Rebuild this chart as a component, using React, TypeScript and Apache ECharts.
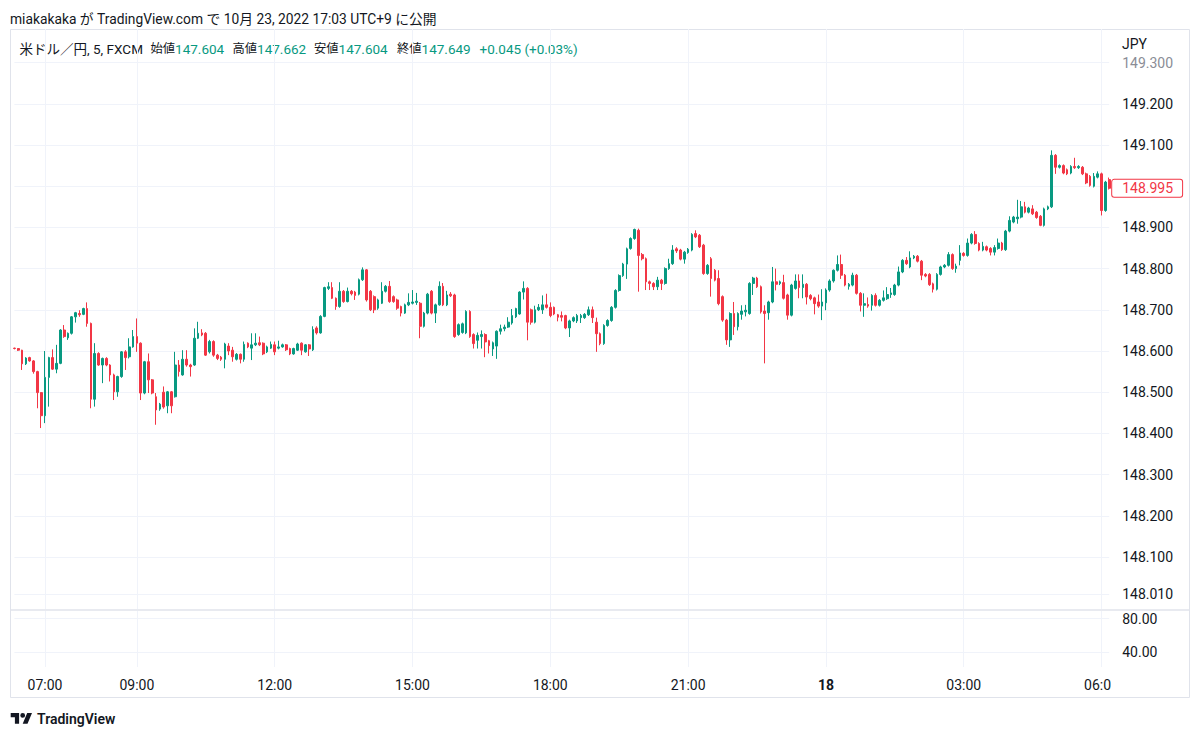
import React, { useEffect, useRef } from "react";
import * as echarts from "echarts";

// [open, close, low, high] — USD/JPY 5-minute candles, 06:20 → 06:10 (next day)
const CANDLES: [number, number, number, number][] = [
  [148.607, 148.606, 148.604, 148.608],
  [148.606, 148.602, 148.600, 148.607],
  [148.602, 148.569, 148.554, 148.603],
  [148.569, 148.583, 148.566, 148.585],
  [148.584, 148.576, 148.574, 148.586],
  [148.576, 148.550, 148.545, 148.578],
  [148.550, 148.499, 148.461, 148.552],
  [148.499, 148.443, 148.413, 148.500],
  [148.443, 148.536, 148.425, 148.600],
  [148.536, 148.584, 148.465, 148.586],
  [148.584, 148.556, 148.554, 148.604],
  [148.556, 148.570, 148.546, 148.615],
  [148.570, 148.651, 148.568, 148.653],
  [148.651, 148.635, 148.632, 148.663],
  [148.632, 148.643, 148.627, 148.645],
  [148.643, 148.683, 148.640, 148.685],
  [148.683, 148.693, 148.669, 148.695],
  [148.691, 148.688, 148.683, 148.699],
  [148.689, 148.703, 148.687, 148.705],
  [148.703, 148.667, 148.659, 148.718],
  [148.667, 148.483, 148.461, 148.669],
  [148.483, 148.594, 148.465, 148.619],
  [148.594, 148.566, 148.564, 148.597],
  [148.566, 148.582, 148.522, 148.584],
  [148.582, 148.566, 148.563, 148.585],
  [148.566, 148.542, 148.526, 148.568],
  [148.542, 148.501, 148.481, 148.545],
  [148.501, 148.538, 148.489, 148.540],
  [148.538, 148.598, 148.535, 148.600],
  [148.598, 148.584, 148.554, 148.602],
  [148.586, 148.610, 148.582, 148.631],
  [148.610, 148.635, 148.608, 148.651],
  [148.635, 148.619, 148.598, 148.679],
  [148.619, 148.498, 148.481, 148.621],
  [148.498, 148.574, 148.495, 148.576],
  [148.574, 148.530, 148.498, 148.594],
  [148.530, 148.498, 148.495, 148.532],
  [148.489, 148.457, 148.421, 148.498],
  [148.459, 148.471, 148.455, 148.474],
  [148.500, 148.464, 148.460, 148.514],
  [148.467, 148.501, 148.449, 148.503],
  [148.501, 148.467, 148.449, 148.503],
  [148.489, 148.566, 148.487, 148.598],
  [148.566, 148.550, 148.538, 148.578],
  [148.542, 148.580, 148.540, 148.602],
  [148.580, 148.566, 148.562, 148.602],
  [148.566, 148.562, 148.538, 148.569],
  [148.566, 148.631, 148.564, 148.655],
  [148.631, 148.643, 148.629, 148.671],
  [148.644, 148.639, 148.636, 148.653],
  [148.643, 148.590, 148.588, 148.646],
  [148.598, 148.623, 148.594, 148.627],
  [148.623, 148.590, 148.586, 148.626],
  [148.590, 148.582, 148.578, 148.593],
  [148.585, 148.580, 148.576, 148.588],
  [148.580, 148.617, 148.558, 148.620],
  [148.612, 148.600, 148.590, 148.619],
  [148.602, 148.586, 148.574, 148.610],
  [148.580, 148.592, 148.577, 148.595],
  [148.592, 148.580, 148.570, 148.594],
  [148.580, 148.616, 148.574, 148.623],
  [148.619, 148.610, 148.607, 148.621],
  [148.607, 148.615, 148.578, 148.643],
  [148.615, 148.619, 148.612, 148.643],
  [148.620, 148.615, 148.612, 148.635],
  [148.619, 148.593, 148.590, 148.621],
  [148.598, 148.610, 148.595, 148.613],
  [148.607, 148.616, 148.605, 148.623],
  [148.615, 148.598, 148.590, 148.623],
  [148.607, 148.610, 148.604, 148.625],
  [148.610, 148.615, 148.608, 148.618],
  [148.615, 148.603, 148.600, 148.617],
  [148.606, 148.593, 148.590, 148.608],
  [148.593, 148.606, 148.591, 148.608],
  [148.602, 148.617, 148.600, 148.620],
  [148.619, 148.602, 148.590, 148.621],
  [148.598, 148.615, 148.596, 148.617],
  [148.615, 148.605, 148.588, 148.617],
  [148.603, 148.652, 148.600, 148.660],
  [148.656, 148.644, 148.640, 148.660],
  [148.644, 148.684, 148.642, 148.687],
  [148.684, 148.754, 148.682, 148.756],
  [148.752, 148.756, 148.748, 148.767],
  [148.754, 148.728, 148.726, 148.767],
  [148.728, 148.708, 148.700, 148.730],
  [148.708, 148.745, 148.705, 148.767],
  [148.745, 148.720, 148.717, 148.748],
  [148.720, 148.745, 148.718, 148.754],
  [148.745, 148.739, 148.735, 148.748],
  [148.743, 148.735, 148.724, 148.746],
  [148.738, 148.773, 148.735, 148.776],
  [148.773, 148.797, 148.770, 148.803],
  [148.797, 148.724, 148.720, 148.799],
  [148.745, 148.700, 148.697, 148.748],
  [148.732, 148.700, 148.692, 148.735],
  [148.704, 148.724, 148.700, 148.727],
  [148.716, 148.745, 148.714, 148.767],
  [148.745, 148.757, 148.742, 148.760],
  [148.757, 148.720, 148.717, 148.770],
  [148.732, 148.720, 148.717, 148.735],
  [148.724, 148.704, 148.700, 148.727],
  [148.708, 148.692, 148.684, 148.710],
  [148.692, 148.712, 148.690, 148.715],
  [148.712, 148.718, 148.709, 148.740],
  [148.716, 148.719, 148.713, 148.748],
  [148.718, 148.721, 148.712, 148.741],
  [148.716, 148.660, 148.631, 148.719],
  [148.660, 148.692, 148.657, 148.695],
  [148.692, 148.738, 148.689, 148.741],
  [148.745, 148.692, 148.689, 148.748],
  [148.692, 148.712, 148.668, 148.715],
  [148.712, 148.757, 148.710, 148.769],
  [148.757, 148.712, 148.709, 148.765],
  [148.712, 148.736, 148.709, 148.746],
  [148.738, 148.734, 148.731, 148.743],
  [148.736, 148.635, 148.632, 148.739],
  [148.640, 148.664, 148.637, 148.667],
  [148.645, 148.666, 148.642, 148.669],
  [148.644, 148.696, 148.641, 148.699],
  [148.696, 148.635, 148.632, 148.699],
  [148.640, 148.618, 148.606, 148.643],
  [148.626, 148.638, 148.606, 148.645],
  [148.635, 148.640, 148.606, 148.650],
  [148.640, 148.622, 148.585, 148.643],
  [148.625, 148.613, 148.594, 148.627],
  [148.605, 148.620, 148.588, 148.623],
  [148.612, 148.648, 148.581, 148.650],
  [148.648, 148.654, 148.640, 148.664],
  [148.654, 148.658, 148.648, 148.664],
  [148.658, 148.670, 148.656, 148.682],
  [148.668, 148.686, 148.664, 148.702],
  [148.683, 148.703, 148.680, 148.705],
  [148.690, 148.743, 148.688, 148.745],
  [148.743, 148.752, 148.725, 148.769],
  [148.752, 148.670, 148.626, 148.755],
  [148.700, 148.670, 148.664, 148.703],
  [148.670, 148.700, 148.667, 148.710],
  [148.700, 148.706, 148.697, 148.714],
  [148.700, 148.712, 148.690, 148.735],
  [148.712, 148.706, 148.703, 148.739],
  [148.706, 148.686, 148.682, 148.718],
  [148.706, 148.690, 148.687, 148.708],
  [148.688, 148.682, 148.672, 148.690],
  [148.686, 148.682, 148.672, 148.696],
  [148.686, 148.656, 148.653, 148.688],
  [148.656, 148.673, 148.634, 148.676],
  [148.673, 148.681, 148.670, 148.684],
  [148.673, 148.686, 148.668, 148.690],
  [148.681, 148.686, 148.668, 148.690],
  [148.681, 148.689, 148.678, 148.692],
  [148.688, 148.700, 148.685, 148.708],
  [148.700, 148.681, 148.668, 148.708],
  [148.670, 148.642, 148.598, 148.681],
  [148.642, 148.618, 148.614, 148.645],
  [148.618, 148.662, 148.615, 148.665],
  [148.662, 148.674, 148.659, 148.677],
  [148.674, 148.706, 148.671, 148.709],
  [148.706, 148.747, 148.703, 148.750],
  [148.747, 148.783, 148.744, 148.786],
  [148.783, 148.811, 148.780, 148.814],
  [148.811, 148.848, 148.775, 148.851],
  [148.849, 148.873, 148.846, 148.876],
  [148.873, 148.895, 148.870, 148.897],
  [148.893, 148.832, 148.744, 148.897],
  [148.834, 148.824, 148.820, 148.838],
  [148.824, 148.768, 148.748, 148.827],
  [148.768, 148.764, 148.748, 148.771],
  [148.764, 148.756, 148.748, 148.767],
  [148.756, 148.772, 148.748, 148.780],
  [148.772, 148.764, 148.748, 148.775],
  [148.764, 148.800, 148.761, 148.803],
  [148.800, 148.812, 148.797, 148.824],
  [148.812, 148.845, 148.809, 148.857],
  [148.848, 148.843, 148.838, 148.852],
  [148.845, 148.823, 148.820, 148.848],
  [148.823, 148.840, 148.812, 148.843],
  [148.839, 148.847, 148.836, 148.850],
  [148.845, 148.883, 148.842, 148.886],
  [148.885, 148.877, 148.874, 148.893],
  [148.881, 148.853, 148.850, 148.884],
  [148.857, 148.788, 148.785, 148.860],
  [148.788, 148.808, 148.785, 148.811],
  [148.824, 148.776, 148.732, 148.828],
  [148.796, 148.772, 148.769, 148.799],
  [148.776, 148.715, 148.711, 148.796],
  [148.732, 148.675, 148.671, 148.735],
  [148.675, 148.627, 148.615, 148.678],
  [148.627, 148.691, 148.610, 148.694],
  [148.691, 148.659, 148.639, 148.719],
  [148.659, 148.691, 148.650, 148.694],
  [148.689, 148.697, 148.676, 148.711],
  [148.695, 148.699, 148.684, 148.712],
  [148.691, 148.764, 148.688, 148.767],
  [148.764, 148.777, 148.736, 148.780],
  [148.777, 148.756, 148.753, 148.780],
  [148.756, 148.695, 148.691, 148.759],
  [148.697, 148.691, 148.570, 148.711],
  [148.693, 148.719, 148.676, 148.722],
  [148.719, 148.768, 148.716, 148.804],
  [148.768, 148.762, 148.747, 148.800],
  [148.764, 148.768, 148.760, 148.771],
  [148.766, 148.728, 148.725, 148.785],
  [148.736, 148.687, 148.676, 148.739],
  [148.687, 148.760, 148.684, 148.763],
  [148.752, 148.770, 148.749, 148.786],
  [148.770, 148.754, 148.728, 148.786],
  [148.754, 148.762, 148.728, 148.786],
  [148.762, 148.731, 148.713, 148.765],
  [148.735, 148.727, 148.723, 148.738],
  [148.729, 148.715, 148.689, 148.732],
  [148.719, 148.709, 148.705, 148.737],
  [148.709, 148.719, 148.675, 148.750],
  [148.717, 148.748, 148.699, 148.752],
  [148.748, 148.770, 148.744, 148.774],
  [148.770, 148.796, 148.766, 148.798],
  [148.796, 148.810, 148.793, 148.832],
  [148.810, 148.784, 148.775, 148.834],
  [148.784, 148.760, 148.757, 148.787],
  [148.757, 148.762, 148.749, 148.765],
  [148.760, 148.784, 148.757, 148.790],
  [148.784, 148.740, 148.737, 148.787],
  [148.740, 148.711, 148.696, 148.743],
  [148.711, 148.715, 148.683, 148.740],
  [148.713, 148.709, 148.705, 148.730],
  [148.711, 148.735, 148.698, 148.738],
  [148.735, 148.711, 148.708, 148.740],
  [148.711, 148.723, 148.708, 148.726],
  [148.723, 148.729, 148.720, 148.747],
  [148.727, 148.737, 148.724, 148.755],
  [148.737, 148.741, 148.729, 148.753],
  [148.737, 148.760, 148.734, 148.763],
  [148.760, 148.792, 148.757, 148.805],
  [148.792, 148.820, 148.789, 148.823],
  [148.820, 148.812, 148.809, 148.828],
  [148.804, 148.826, 148.801, 148.842],
  [148.826, 148.830, 148.823, 148.833],
  [148.830, 148.818, 148.815, 148.833],
  [148.818, 148.784, 148.772, 148.821],
  [148.786, 148.782, 148.779, 148.789],
  [148.786, 148.761, 148.758, 148.789],
  [148.763, 148.750, 148.742, 148.766],
  [148.750, 148.786, 148.747, 148.789],
  [148.786, 148.804, 148.783, 148.807],
  [148.804, 148.808, 148.801, 148.811],
  [148.808, 148.834, 148.805, 148.840],
  [148.834, 148.800, 148.797, 148.837],
  [148.800, 148.806, 148.790, 148.812],
  [148.820, 148.838, 148.808, 148.857],
  [148.837, 148.832, 148.829, 148.840],
  [148.832, 148.862, 148.829, 148.873],
  [148.862, 148.883, 148.859, 148.886],
  [148.883, 148.861, 148.858, 148.891],
  [148.861, 148.845, 148.842, 148.864],
  [148.845, 148.854, 148.842, 148.865],
  [148.853, 148.845, 148.842, 148.856],
  [148.849, 148.840, 148.832, 148.852],
  [148.840, 148.851, 148.832, 148.857],
  [148.849, 148.862, 148.846, 148.873],
  [148.862, 148.846, 148.843, 148.865],
  [148.846, 148.891, 148.843, 148.894],
  [148.891, 148.917, 148.888, 148.927],
  [148.913, 148.925, 148.910, 148.928],
  [148.921, 148.925, 148.909, 148.967],
  [148.925, 148.950, 148.922, 148.964],
  [148.950, 148.937, 148.934, 148.962],
  [148.937, 148.947, 148.934, 148.950],
  [148.945, 148.933, 148.930, 148.954],
  [148.937, 148.924, 148.921, 148.940],
  [148.927, 148.905, 148.903, 148.930],
  [148.905, 148.945, 148.902, 148.948],
  [148.945, 148.950, 148.942, 148.953],
  [148.950, 149.075, 148.947, 149.087],
  [149.075, 149.046, 149.030, 149.078],
  [149.046, 149.050, 149.043, 149.053],
  [149.050, 149.032, 149.029, 149.053],
  [149.040, 149.030, 149.027, 149.043],
  [149.032, 149.048, 149.029, 149.051],
  [149.048, 149.045, 149.042, 149.069],
  [149.045, 149.048, 149.042, 149.051],
  [149.046, 149.030, 149.027, 149.049],
  [149.030, 149.008, 149.005, 149.033],
  [149.024, 149.002, 148.999, 149.027],
  [149.000, 149.024, 148.997, 149.032],
  [149.022, 149.030, 149.019, 149.036],
  [149.030, 148.941, 148.929, 149.033],
  [148.941, 149.010, 148.938, 149.013],
  [149.016, 148.995, 148.992, 149.021],
];

const FIRST_BAR = "06:20";
const TIME_LABELS = ["07:00", "09:00", "12:00", "15:00", "18:00", "21:00", "00:00", "03:00", "06:00"];
const DAY_LABEL = "18";
const PRICE_GRID = [148.01, 148.1, 148.2, 148.3, 148.4, 148.5, 148.6, 148.7, 148.8, 148.9, 149.0, 149.1, 149.2, 149.3];
const PRICE_LABELS = [148.01, 148.1, 148.2, 148.3, 148.4, 148.5, 148.6, 148.7, 148.8, 148.9, 149.1, 149.2, 149.3];
const LOWER_TICKS = [40, 80];
const TITLE = "miakakaka が TradingView.com で 10月 23, 2022 17:03 UTC+9 に公開";
const SYMBOL = "米ドル／円, 5, FXCM";
const OHLC_NAMES = ["始値", "高値", "安値", "終値"];
const OHLC_VALUES = ["147.604", "147.662", "147.604", "147.649"];
const CHANGE = "+0.045 (+0.03%)";
const CURRENCY = "JPY";

const pad = (n: number) => (n < 10 ? "0" + n : "" + n);
const startMin = parseInt(FIRST_BAR.slice(0, 2)) * 60 + parseInt(FIRST_BAR.slice(3));
const TIMES = CANDLES.map((_, i) => {
  const m = (startMin + i * 5) % 1440;
  return pad(Math.floor(m / 60)) + ":" + pad(m % 60);
});
const LAST_PRICE = CANDLES[CANDLES.length - 1][1];

const FONT = 'Roboto, "Noto Sans CJK JP", "Noto Sans", sans-serif';
const TEXT = "#131722";
const UP = "#089981";
const DOWN = "#f23645";
const GRIDC = "#f0f3fa";
const BORDER = "#e0e3eb";

const TV_LOGO = "M14 22H7V11H0V4h14v18zM28 22h-8l7.5-18h8L28 22zM24 8A4 4 0 1 1 16 8A4 4 0 1 1 24 8Z";

export default function App() {
  const ref = useRef<HTMLDivElement>(null);
  useEffect(() => {
    if (!ref.current) return;
    try {
      echarts.graphic.registerShape("tvlogo", echarts.graphic.extendPath(TV_LOGO, {}) as any);
    } catch (e) {}
    const chart = echarts.init(ref.current, null, { renderer: "svg" });
    const showLabel = (_i: number, v: string) => TIME_LABELS.indexOf(v) >= 0;
    const GL = 14.4;
    const GW = 1094.8;

    const nameX = [150.5, 232.5, 314, 397];
    const legendItems: any[] = OHLC_NAMES.map((n, i) => ({
      type: "text", x: nameX[i], y: 49,
      style: {
        text: "{n|" + n + "}{v|" + OHLC_VALUES[i] + "}",
        verticalAlign: "middle", textVerticalAlign: "middle",
        rich: {
          n: { fontSize: 12.3, fontFamily: FONT, fill: TEXT, color: TEXT },
          v: { fontSize: 13.5, fontFamily: FONT, fill: UP, color: UP },
        },
      },
    }));

    const option: any = {
      animation: false,
      backgroundColor: "#ffffff",
      grid: [
        { left: GL, top: 29, width: GW, height: 580 },
        { left: GL, top: 611, width: GW, height: 56 },
      ],
      xAxis: [
        {
          type: "category", gridIndex: 0, data: TIMES, boundaryGap: false,
          axisLine: { show: false }, axisTick: { show: false }, axisLabel: { show: false },
          splitLine: { show: true, interval: showLabel, lineStyle: { color: GRIDC, width: 1 } },
        },
        {
          type: "category", gridIndex: 1, data: TIMES, boundaryGap: false,
          axisLine: { show: false }, axisTick: { show: false },
          axisLabel: {
            show: true, interval: showLabel, color: TEXT, fontSize: 14, fontFamily: FONT, margin: 11,
            formatter: (v: string) => (v === "00:00" ? "{b|" + DAY_LABEL + "}" : v),
            rich: { b: { fontWeight: "bold", fontSize: 14, color: TEXT, fontFamily: FONT } },
          },
          splitLine: { show: true, interval: showLabel, lineStyle: { color: GRIDC, width: 1 } },
        },
      ],
      yAxis: [
        {
          type: "value", gridIndex: 0, position: "right", min: 147.9738, max: 149.3816, scale: true,
          axisLine: { show: false },
          axisTick: { show: false, customValues: PRICE_GRID },
          axisLabel: {
            customValues: PRICE_LABELS, margin: 13, fontSize: 14, fontFamily: FONT,
            color: (v: any) => (Number(v) > 149.25 ? "#8a8d96" : TEXT),
            formatter: (v: number) => Number(v).toFixed(3),
          },
          splitLine: { show: true, lineStyle: { color: GRIDC, width: 1 } },
        },
        {
          type: "value", gridIndex: 1, position: "right", min: 22.09, max: 88.96,
          axisLine: { show: false },
          axisTick: { show: false, customValues: LOWER_TICKS },
          axisLabel: {
            customValues: LOWER_TICKS, margin: 13, fontSize: 14, fontFamily: FONT, color: TEXT,
            formatter: (v: number) => Number(v).toFixed(2),
          },
          splitLine: { show: true, lineStyle: { color: GRIDC, width: 1 } },
        },
      ],
      series: [
        {
          type: "candlestick", xAxisIndex: 0, yAxisIndex: 0, data: CANDLES, barWidth: 2.2, clip: false,
          itemStyle: { color: UP, color0: DOWN, borderColor: UP, borderColor0: DOWN, borderWidth: 1 },
          markLine: {
            silent: true, symbol: "none", animation: false, precision: 3,
            lineStyle: { color: "rgba(0,0,0,0)", width: 0 },
            label: {
              show: true, position: "end", distance: 3,
              formatter: () => LAST_PRICE.toFixed(3),
              color: DOWN, fontSize: 14, fontFamily: FONT,
              backgroundColor: "#ffffff", borderColor: DOWN, borderWidth: 1, borderRadius: 2,
              padding: [2, 9, 1, 10],
            },
            data: [{ yAxis: LAST_PRICE }],
          },
        },
        { type: "line", xAxisIndex: 1, yAxisIndex: 1, data: [], showSymbol: false },
      ],
      graphic: [
        { type: "rect", silent: true, z: 0, shape: { x: 10.5, y: 29.5, width: 1179, height: 668 }, style: { fill: "none", stroke: BORDER, lineWidth: 1 } },
        { type: "rect", silent: true, z: 50, shape: { x: 10, y: 609.2, width: 1180, height: 1.6 }, style: { fill: BORDER } },
        { type: "rect", silent: true, z: 100, shape: { x: 1111, y: 669, width: 78, height: 27 }, style: { fill: "#ffffff" } },
        {
          type: "text", x: 10, y: 19,
          style: { text: TITLE, fill: TEXT, fontSize: 13.8, fontFamily: FONT, verticalAlign: "middle", textVerticalAlign: "middle" },
        },
        {
          type: "text", x: 19.5, y: 49,
          style: { text: SYMBOL, fill: TEXT, fontSize: 13.5, fontFamily: FONT, verticalAlign: "middle", textVerticalAlign: "middle" },
        },
        ...legendItems,
        {
          type: "text", x: 479.5, y: 49,
          style: { text: CHANGE, fill: UP, fontSize: 13.5, fontFamily: FONT, verticalAlign: "middle", textVerticalAlign: "middle" },
        },
        {
          type: "text", x: 1122, y: 44,
          style: { text: CURRENCY, fill: TEXT, fontSize: 14, fontFamily: FONT, verticalAlign: "middle", textVerticalAlign: "middle" },
        },
        { type: "tvlogo", x: 10.7, y: 710.6, scaleX: 0.6, scaleY: 0.6, silent: true, style: { fill: TEXT } },
        {
          type: "text", x: 37, y: 719,
          style: { text: "TradingView", fill: TEXT, fontSize: 14, fontWeight: 600, fontFamily: FONT, verticalAlign: "middle", textVerticalAlign: "middle" },
        },
      ],
    };
    chart.setOption(option);
    return () => chart.dispose();
  }, []);
  return (
    <div
      ref={ref}
      style={{ position: "fixed", left: 0, top: 0, width: 1200, height: 738, background: "#ffffff" }}
    />
  );
}
